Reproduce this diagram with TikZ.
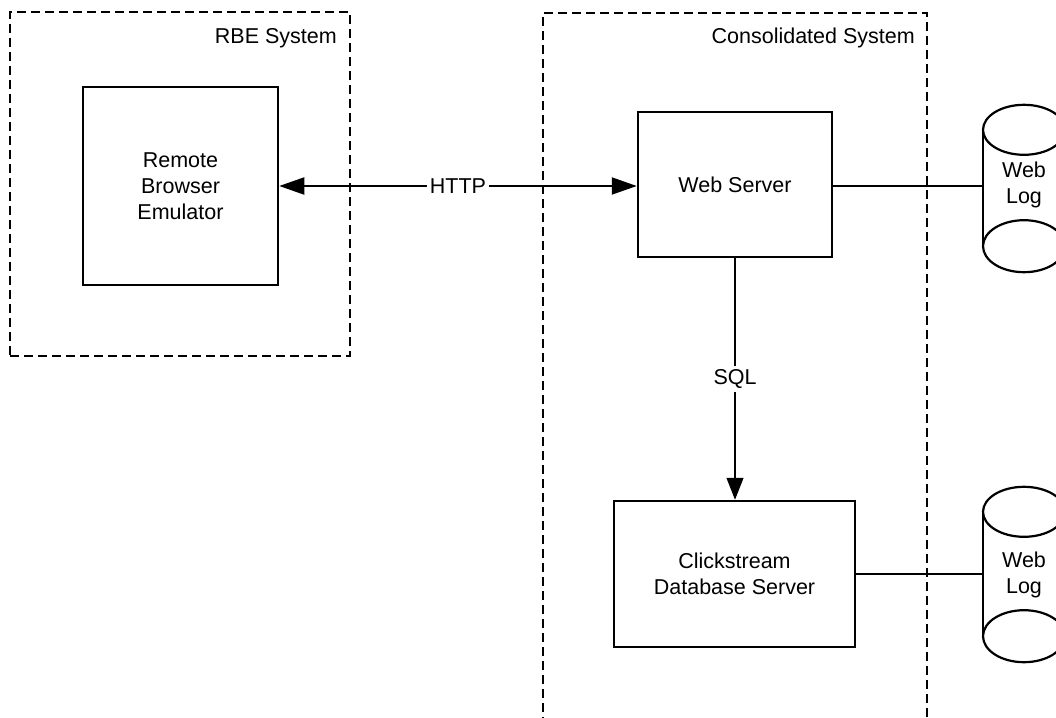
\documentclass[tikz,border=0pt]{standalone}
\usepackage{fontspec}
\setmainfont{Liberation Sans}
\usetikzlibrary{arrows.meta}
\begin{document}
\begin{tikzpicture}[x=1pt,y=-1pt,
  font=\fontsize{21.5}{26}\selectfont,
  group/.style={draw, line width=1.4pt, dash pattern=on 9pt off 5pt, inner sep=0pt},
  grouplabel/.style={anchor=east, inner sep=0pt},
  unit/.style={draw, line width=2.5pt, align=center, inner sep=0pt},
  store/.style={inner sep=0pt, minimum width=82pt, minimum height=167pt, align=center},
  tag/.style={fill=white, inner sep=3pt},
  bigtip/.tip={Triangle[length=25pt,width=17pt]}
]
\useasboundingbox (0,0) rectangle (1056,717);
\clip (0,0) rectangle (1056,717);

% system boundaries
\node[group, minimum width=340pt, minimum height=344pt] (rbe) at (180,184) {};
\node[grouplabel] (rbelabel) at (337,38) {RBE System};
\node[group, minimum width=384pt, minimum height=740pt] (cons) at (735,383) {};
\node[grouplabel] (conslabel) at (915,38) {Consolidated System};

% components
\node[unit, minimum width=195pt, minimum height=198pt] (rbeu) at (180.5,186) {Remote\\Browser\\Emulator};
\node[unit, minimum width=194pt, minimum height=145pt] (ws) at (735,184.5) {Web Server};
\node[unit, minimum width=241pt, minimum height=146pt] (cs) at (734.5,574) {Clickstream\\Database Server};

% log stores
\node[store] (log1) at (1024,188.5) {};
\node[store, minimum height=175pt] (log2) at (1024,574.5) {};
\foreach \s in {log1,log2}{
  \draw[line width=2.2pt] ([yshift=-25pt]\s.north) ellipse [x radius=41pt, y radius=25pt];
  \draw[line width=2.2pt] ([yshift=26pt]\s.south) ellipse [x radius=41pt, y radius=26pt];
  \draw[line width=2.2pt] ([yshift=-25pt]\s.north west) -- ([yshift=26pt]\s.south west);
  \draw[line width=2.2pt] ([yshift=-25pt]\s.north east) -- ([yshift=26pt]\s.south east);
}
\node[align=center, inner sep=0pt] (log1text) at (1024,184.5) {Web\\Log};
\node[align=center, inner sep=0pt] (log2text) at (1024,575) {Web\\Log};

% connectors
\draw[line width=2pt, bigtip-bigtip] (rbeu.east) -- node[tag] (http) {HTTP} (rbeu.east -| ws.west);
\draw[line width=1.2pt, -{Triangle[length=22pt,width=17pt]}] (ws.south) -- node[tag] (sql) {SQL} (ws.south |- cs.north);
\draw[line width=2pt] ([yshift=-1.5pt]ws.east) -- ([yshift=-1.5pt]ws.east -| log1.west);
\draw[line width=1.3pt] (cs.east) -- (cs.east -| log2.west);
\end{tikzpicture}
\end{document}
